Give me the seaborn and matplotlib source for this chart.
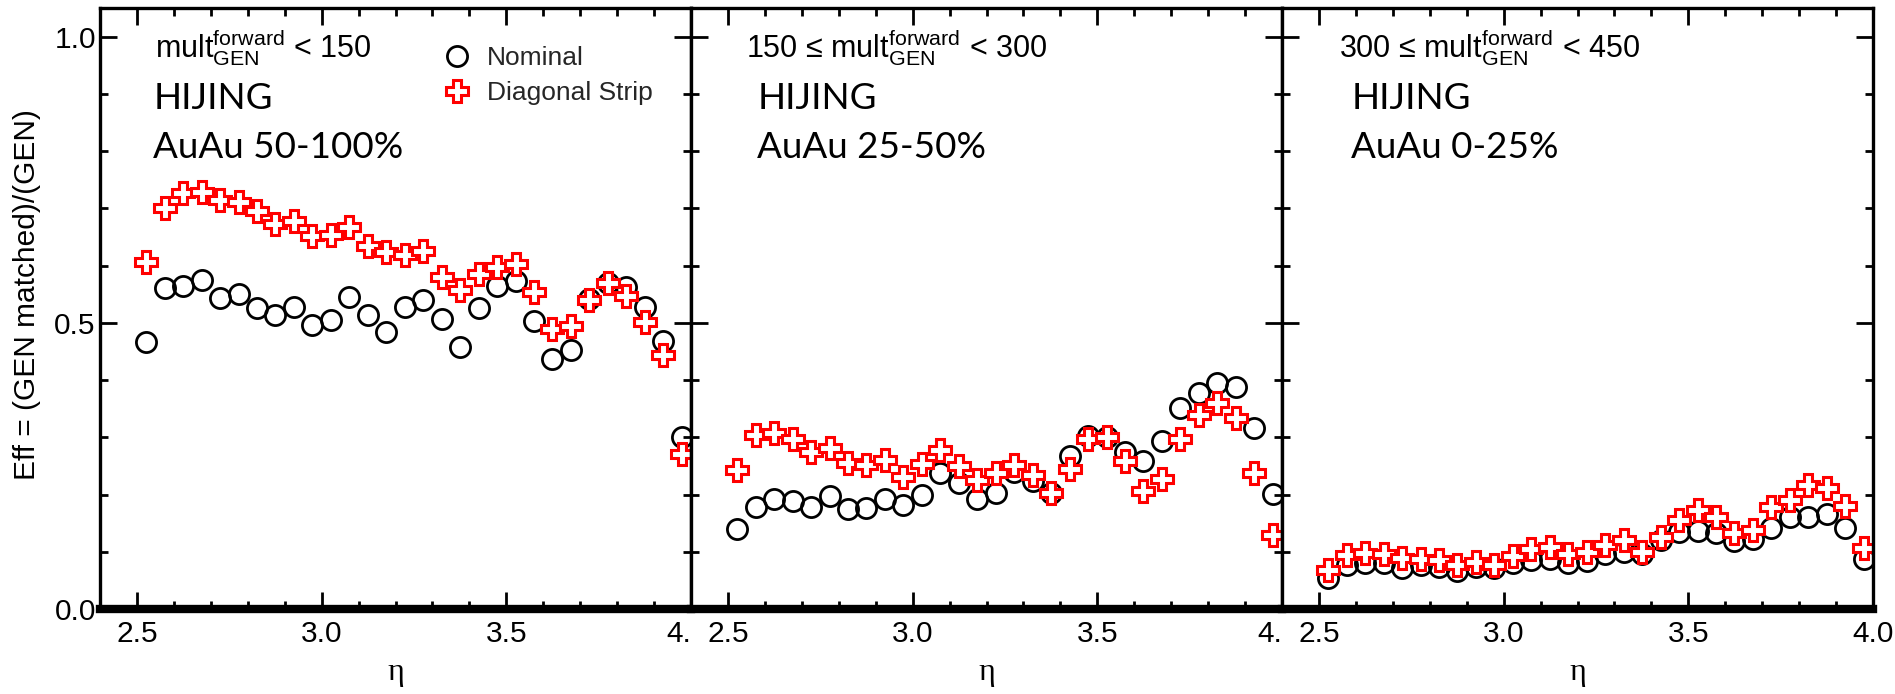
import numpy as np
import pandas as pd
import matplotlib
matplotlib.use("Agg")
import matplotlib.pyplot as plt
import seaborn as sns
from matplotlib.ticker import FixedLocator, MultipleLocator, FixedFormatter

# ---------------- data ----------------
eta = [2.525, 2.575, 2.625, 2.675, 2.725, 2.775, 2.825, 2.875, 2.925, 2.975,
       3.025, 3.075, 3.125, 3.175, 3.225, 3.275, 3.325, 3.375, 3.425, 3.475,
       3.525, 3.575, 3.625, 3.675, 3.725, 3.775, 3.825, 3.875, 3.925, 3.975]

nominal_low = [0.466, 0.561, 0.565, 0.575, 0.543, 0.550, 0.526, 0.514, 0.528, 0.497,
               0.505, 0.545, 0.514, 0.484, 0.528, 0.540, 0.507, 0.458, 0.526, 0.565,
               0.573, 0.504, 0.436, 0.452, 0.542, 0.569, 0.563, 0.528, 0.469, 0.300]
strip_low = [0.606, 0.700, 0.727, 0.728, 0.714, 0.711, 0.695, 0.673, 0.677, 0.652,
             0.653, 0.667, 0.635, 0.623, 0.619, 0.626, 0.580, 0.557, 0.586, 0.598,
             0.602, 0.553, 0.490, 0.495, 0.539, 0.569, 0.547, 0.501, 0.443, 0.271]

nominal_mid = [0.140, 0.179, 0.192, 0.189, 0.179, 0.198, 0.175, 0.176, 0.192, 0.182,
               0.199, 0.237, 0.220, 0.192, 0.203, 0.240, 0.223, 0.203, 0.267, 0.302,
               0.301, 0.275, 0.258, 0.294, 0.351, 0.377, 0.394, 0.387, 0.316, 0.201]
strip_mid = [0.242, 0.304, 0.307, 0.297, 0.275, 0.281, 0.255, 0.252, 0.260, 0.231,
             0.253, 0.277, 0.249, 0.226, 0.237, 0.252, 0.234, 0.203, 0.244, 0.297,
             0.300, 0.258, 0.207, 0.227, 0.297, 0.339, 0.360, 0.333, 0.238, 0.130]

nominal_high = [0.055, 0.076, 0.080, 0.080, 0.071, 0.076, 0.074, 0.067, 0.074, 0.071,
                0.080, 0.085, 0.088, 0.080, 0.083, 0.096, 0.100, 0.096, 0.121, 0.135,
                0.137, 0.133, 0.118, 0.122, 0.141, 0.161, 0.161, 0.166, 0.141, 0.087]
strip_high = [0.068, 0.094, 0.097, 0.096, 0.089, 0.088, 0.086, 0.077, 0.082, 0.077,
              0.092, 0.105, 0.109, 0.096, 0.100, 0.112, 0.121, 0.100, 0.126, 0.155,
              0.173, 0.160, 0.132, 0.138, 0.179, 0.190, 0.216, 0.212, 0.180, 0.106]

series_names = ["Nominal", "Diagonal Strip"]
selection_labels = [
    r"$\mathrm{mult}^{\mathrm{forward}}_{\mathrm{GEN}}$ < 150",
    r"150 ≤ $\mathrm{mult}^{\mathrm{forward}}_{\mathrm{GEN}}$ < 300",
    r"300 ≤ $\mathrm{mult}^{\mathrm{forward}}_{\mathrm{GEN}}$ < 450",
]
generator_label = "HIJING"
centrality_labels = ["AuAu 50-100%", "AuAu 25-50%", "AuAu 0-25%"]
x_ticks = [2.5, 3.0, 3.5, 4.0]
x_tick_labels_inner = ["2.5", "3.0", "3.5", "4."]   # last label cut at the pad edge
x_tick_labels_last = ["2.5", "3.0", "3.5", "4.0"]
y_ticks = [0.0, 0.5, 1.0]
y_tick_labels = ["0.0", "0.5", "1.0"]
x_label = "η"
y_label = "Eff = (GEN matched)/(GEN)"

panels = [(nominal_low, strip_low), (nominal_mid, strip_mid), (nominal_high, strip_high)]

# ---------------- style ----------------
sns.set_theme(style="ticks")
plt.rcParams["font.family"] = ["Liberation Sans", "DejaVu Sans"]
plt.rcParams["mathtext.fontset"] = "custom"
plt.rcParams["mathtext.rm"] = "Liberation Sans"
plt.rcParams["mathtext.it"] = "Liberation Sans:italic"
plt.rcParams["mathtext.bf"] = "Liberation Sans:bold"

fig = plt.figure(figsize=(18.95, 6.94), dpi=100)

left_px, width_px = 100, 591
bottom_f = (694 - 609) / 694
height_f = 601 / 694

sel_x = [0.093, 0.093, 0.097]
gen_x = [0.090, 0.112, 0.117]

axes = []
for i, (nom, strip) in enumerate(panels):
    ax = fig.add_axes([(left_px + i * width_px) / 1895, bottom_f, width_px / 1895, height_f])
    axes.append(ax)
    df = pd.DataFrame({"eta": eta, "nom": nom, "strip": strip})
    sns.lineplot(data=df, x="eta", y="nom", ax=ax, linestyle="", marker="o",
                 markersize=14.5, markerfacecolor="none", markeredgecolor="black",
                 markeredgewidth=2.0, color="black", errorbar=None, label=series_names[0],
                 legend=False)
    sns.lineplot(data=df, x="eta", y="strip", ax=ax, linestyle="", marker="P",
                 markersize=16, markerfacecolor="white", markeredgecolor="red",
                 markeredgewidth=2.2, color="red", errorbar=None, label=series_names[1],
                 legend=False)
    ax.set_xlim(2.4, 4.0)
    ax.set_ylim(0.0, 1.05)
    ax.xaxis.set_major_locator(FixedLocator(x_ticks))
    ax.xaxis.set_major_formatter(FixedFormatter(x_tick_labels_last if i == 2 else x_tick_labels_inner))
    ax.xaxis.set_minor_locator(MultipleLocator(0.1))
    ax.yaxis.set_major_locator(FixedLocator(y_ticks))
    ax.yaxis.set_major_formatter(FixedFormatter(y_tick_labels))
    ax.yaxis.set_minor_locator(MultipleLocator(0.1))
    ax.tick_params(which="both", direction="in", top=True, right=True, color="black",
                   width=2.0)
    ax.tick_params(which="major", length=12)
    ax.tick_params(which="minor", length=6)
    ax.tick_params(axis="x", which="major", labelsize=21.5, pad=8, labelcolor="black")
    ax.tick_params(axis="y", which="major", labelsize=21.5, pad=3, labelcolor="black")
    if i > 0:
        ax.tick_params(axis="y", labelleft=False)
    for side in ["left", "right", "top"]:
        ax.spines[side].set_linewidth(2.4)
        ax.spines[side].set_color("black")
    ax.spines["bottom"].set_linewidth(6.0)
    ax.spines["bottom"].set_color("black")
    ax.set_facecolor("white")
    ax.set_ylabel("")
    ax.set_xlabel(x_label, fontfamily=["Liberation Serif", "DejaVu Serif"], fontsize=23,
                  color="black")
    ax.xaxis.set_label_coords(0.5, -0.105)
    ax.xaxis.label.set_verticalalignment("center")

    ax.text(sel_x[i], 0.917, selection_labels[i], transform=ax.transAxes, fontsize=22,
            ha="left", va="baseline", color="black")
    ax.text(gen_x[i], 0.832, generator_label, transform=ax.transAxes, fontsize=26.5,
            fontfamily=["Lato", "DejaVu Sans"], ha="left", va="baseline", color="black")
    ax.text(gen_x[i], 0.750, centrality_labels[i], transform=ax.transAxes, fontsize=26.5,
            fontfamily=["Lato", "DejaVu Sans"], ha="left", va="baseline", color="black")

    if i < 2:
        # the "4." label sits left of the pad border, as in the original
        last_tick = ax.xaxis.get_major_ticks()[-1]
        last_tick.label1.set_horizontalalignment("right")

handles = axes[0].get_lines()[:2]
axes[0].legend(handles=handles, labels=series_names, loc="upper left",
               bbox_to_anchor=(0.581, 0.937), frameon=False, fontsize=19,
               handlelength=1.0, handletextpad=0.64, labelspacing=0.44,
               borderpad=0, borderaxespad=0)

fig.text(27 / 1895, 1 - 295 / 694, y_label, rotation=90, ha="center", va="center",
         fontsize=21.5, color="black")

fig.savefig("out.png", dpi=100, facecolor="white")
